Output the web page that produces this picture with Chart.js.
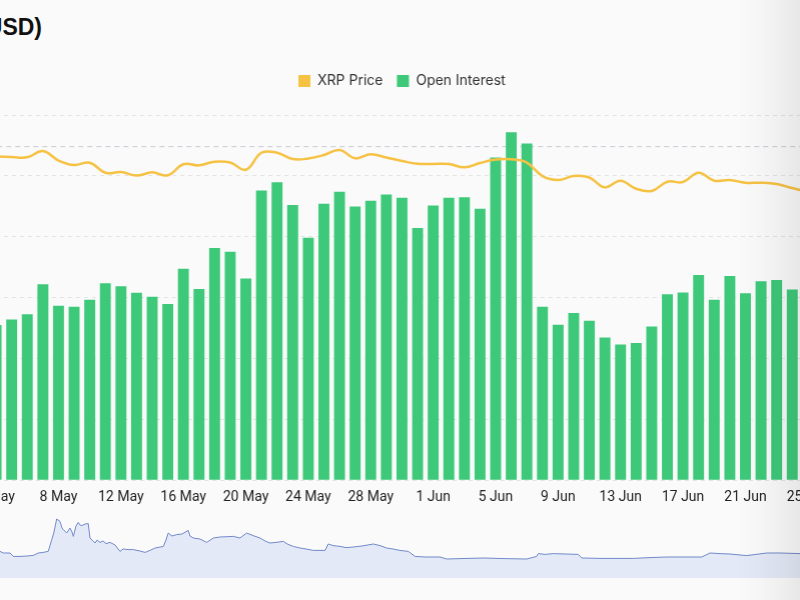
<!DOCTYPE html>
<html>
<head>
<meta charset="utf-8">
<title>XRP Open Interest</title>
<script src="https://cdn.jsdelivr.net/npm/chart.js@4.4.0/dist/chart.umd.min.js"></script>
<style>
    html, body { margin: 0; padding: 0; background: #fafafa; }
    body { width: 800px; height: 600px; position: relative; overflow: hidden; }
    #title { position: absolute; right: 758px; top: 16px; font: bold 23px/23px "Liberation Sans", Arial, sans-serif; color: #111; white-space: nowrap; }
    #main { position: absolute; left: -12.8px; top: 0; width: 828.9px; height: 515px; }
    #nav { position: absolute; left: 0; top: 508px; width: 800px; height: 70px; }
    #fade { position: absolute; left: 735px; top: 0; width: 65px; height: 600px; pointer-events: none;
            background: linear-gradient(to right, rgba(0,0,0,0), rgba(0,0,0,0.015) 35%, rgba(0,0,0,0.045) 70%, rgba(0,0,0,0.075)); }
</style>
</head>
<body>
<div id="title">XRP Open Interest (USD)</div>
<div id="main"><canvas id="oiChart"></canvas></div>
<div id="nav"><canvas id="navChart"></canvas></div>
<div id="fade"></div>
<script>
// Daily categories shown in the main chart
const days = [
    '4 May', '5 May', '6 May', '7 May', '8 May', '9 May', '10 May', '11 May', '12 May', '13 May',
    '14 May', '15 May', '16 May', '17 May', '18 May', '19 May', '20 May', '21 May', '22 May', '23 May',
    '24 May', '25 May', '26 May', '27 May', '28 May', '29 May', '30 May', '31 May',
    '1 Jun', '2 Jun', '3 Jun', '4 Jun', '5 Jun', '6 Jun', '7 Jun', '8 Jun', '9 Jun', '10 Jun',
    '11 Jun', '12 Jun', '13 Jun', '14 Jun', '15 Jun', '16 Jun', '17 Jun', '18 Jun', '19 Jun', '20 Jun',
    '21 Jun', '22 Jun', '23 Jun', '24 Jun', '25 Jun'
];

// Open interest, million USD
const openInterest = [
    510, 528, 545, 644, 573, 570, 593, 647, 637, 616,
    603, 579, 695, 628, 763, 751, 663, 952, 979, 904,
    797, 908, 948, 899, 918, 939, 928, 829, 903, 928,
    930, 892, 1060, 1143, 1106, 570, 511, 549, 524, 469,
    446, 451, 505, 611, 617, 674, 593, 671, 614, 654,
    658, 627, 620
];

// XRP price, USD
const xrpPrice = [
    0.5318, 0.5310, 0.5305, 0.5408, 0.5252, 0.5178, 0.5216, 0.5051, 0.5063, 0.5005,
    0.5058, 0.5009, 0.5190, 0.5173, 0.5232, 0.5219, 0.5101, 0.5380, 0.5380, 0.5277,
    0.5285, 0.5342, 0.5425, 0.5288, 0.5354, 0.5301, 0.5244, 0.5199, 0.5195, 0.5195,
    0.5140, 0.5211, 0.5268, 0.5272, 0.5219, 0.4997, 0.4932, 0.4997, 0.4973, 0.4811,
    0.4920, 0.4788, 0.4751, 0.4904, 0.4899, 0.5051, 0.4920, 0.4932, 0.4887, 0.4887,
    0.4866, 0.4800, 0.4734
];

const priceRefLine = 0.548;

// Navigator overview (full history), day offset and open interest in billion USD
const navDays = [
    0, 1.5, 4.5, 6, 9, 12.2, 15, 17.2, 19.4, 21.7,
    23.3, 24.3, 25.5, 27, 27.9, 28.5, 30, 31.5, 32.4, 33,
    34.2, 35.2, 36, 36.8, 38.3, 39.7, 40.5, 41.9, 42.8, 43.7,
    45, 46.4, 47.7, 49.5, 51.8, 54, 55.4, 57.6, 60, 63,
    65.3, 67.5, 69.8, 73.5, 74.7, 75.7, 77.4, 79.5, 81.9, 84.7,
    85.5, 87, 90, 93, 96, 99, 105, 108, 111, 113.9,
    117, 119.3, 121.5, 124.2, 127.5, 129.6, 132, 135, 137.7, 141,
    144, 146.3, 147.7, 149.9, 153, 155.7, 159, 162.9, 168, 171,
    174, 176.9, 180, 183.7, 186.8, 191.3, 198, 201, 207, 217.5,
    227.3, 237, 241.5, 242.2, 245.3, 249, 254.3, 260.2, 261.8, 270,
    285, 292.5, 300, 308.3, 315.8, 319.5, 324, 328.5, 336, 345,
    351, 360
];
const navValues = [
    1.33, 1.25, 1.25, 1.08, 1.08, 1.10, 1.13, 1.25, 1.28, 1.33,
    1.92, 2.30, 2.95, 2.83, 2.50, 2.42, 2.25, 2.50, 2.30, 2.08,
    2.60, 2.78, 2.65, 2.62, 2.70, 2.72, 2.00, 1.85, 1.75, 1.90,
    1.78, 1.85, 1.72, 1.78, 1.65, 1.33, 1.45, 1.42, 1.42, 1.35,
    1.28, 1.38, 1.50, 1.58, 1.90, 2.25, 2.10, 2.17, 2.20, 2.38,
    2.10, 2.00, 1.95, 1.78, 2.00, 2.05, 2.08, 2.00, 2.25, 2.12,
    2.00, 1.85, 1.75, 1.78, 1.83, 1.68, 1.58, 1.50, 1.45, 1.38,
    1.38, 1.38, 1.70, 1.62, 1.58, 1.52, 1.55, 1.60, 1.70, 1.62,
    1.50, 1.45, 1.38, 1.33, 1.08, 1.05, 1.05, 0.95, 0.97, 1.00,
    0.97, 0.95, 1.08, 1.22, 1.18, 1.22, 1.20, 1.18, 1.00, 0.98,
    0.98, 1.02, 1.05, 1.05, 1.05, 1.25, 1.22, 1.20, 1.12, 1.25,
    1.25, 1.22
];

const colors = {
    price: '#f6c244',
    oi: '#3ec97a',
    grid: '#e4e4e4',
    refLine: '#c8c9d2',
    navLine: '#7289c9',
    navFill: '#e3e9f6'
};

// Extra space between the legend and the plot
const legendMargin = {
    id: 'legendMargin',
    beforeInit(chart) {
        const fit = chart.legend.fit;
        chart.legend.fit = function () {
            fit.bind(chart.legend)();
            this.height += 17;
        };
    }
};

// Dashed reference line on the price axis
const refLine = {
    id: 'refLine',
    beforeDatasetsDraw(chart) {
        const { ctx, chartArea, scales } = chart;
        const y = scales.y1.getPixelForValue(priceRefLine);
        ctx.save();
        ctx.strokeStyle = colors.refLine;
        ctx.lineWidth = 1;
        ctx.setLineDash([5, 4]);
        ctx.beginPath();
        ctx.moveTo(chartArea.left, y);
        ctx.lineTo(chartArea.right, y);
        ctx.stroke();
        ctx.restore();
    }
};

new Chart(document.getElementById('oiChart'), {
    data: {
        labels: days,
        datasets: [
            {
                type: 'line',
                label: 'XRP Price',
                data: xrpPrice,
                yAxisID: 'y1',
                borderColor: colors.price,
                backgroundColor: colors.price,
                borderWidth: 2.5,
                pointRadius: 0,
                tension: 0.4,
                order: 0,
            },
            {
                type: 'bar',
                label: 'Open Interest',
                data: openInterest,
                yAxisID: 'y',
                backgroundColor: colors.oi,
                categoryPercentage: 1,
                barPercentage: 0.7,
                order: 1,
            }
        ]
    },
    options: {
        responsive: true,
        maintainAspectRatio: false,
        animation: false,
        layout: { padding: { top: 60, left: 0, right: 0, bottom: 0 } },
        scales: {
            x: {
                offset: true,
                grid: { display: false, drawTicks: false },
                border: { display: false },
                ticks: {
                    autoSkip: false,
                    maxRotation: 0,
                    padding: 9,
                    color: '#222',
                    font: { family: 'Roboto', size: 14 },
                    callback: (val, i) => i % 4 === 0 ? days[i] : '',
                },
                afterFit(scale) {
                    scale.paddingLeft = 0;
                    scale.paddingRight = 0;
                }
            },
            y: {
                position: 'left',
                min: 0,
                max: 1200,
                ticks: { display: false, stepSize: 200 },
                grid: { color: colors.grid, drawTicks: false },
                border: { display: false, dash: [4, 4] },
            },
            y1: {
                position: 'right',
                display: false,
                min: 0,
                max: 0.6,
            }
        },
        plugins: {
            tooltip: { enabled: false },
            legend: {
                position: 'top',
                labels: {
                    boxWidth: 12,
                    boxHeight: 12,
                    padding: 14,
                    color: '#333',
                    font: { family: 'Inter', size: 14 },
                    generateLabels(chart) {
                        return Chart.defaults.plugins.legend.labels.generateLabels(chart)
                            .map(item => Object.assign(item, { lineWidth: 0 }));
                    }
                }
            }
        }
    },
    plugins: [legendMargin, refLine]
});

new Chart(document.getElementById('navChart'), {
    type: 'line',
    data: {
        datasets: [{
            data: navDays.map((d, i) => ({ x: d, y: navValues[i] })),
            borderColor: colors.navLine,
            backgroundColor: colors.navFill,
            borderWidth: 1,
            pointRadius: 0,
            tension: 0,
            fill: 'origin',
        }]
    },
    options: {
        responsive: true,
        maintainAspectRatio: false,
        animation: false,
        layout: { padding: 0 },
        scales: {
            x: { type: 'linear', min: 0, max: 360, display: false },
            y: { min: 0, max: 3.5, display: false }
        },
        plugins: {
            legend: { display: false },
            tooltip: { enabled: false }
        }
    }
});
</script>
</body>
</html>
